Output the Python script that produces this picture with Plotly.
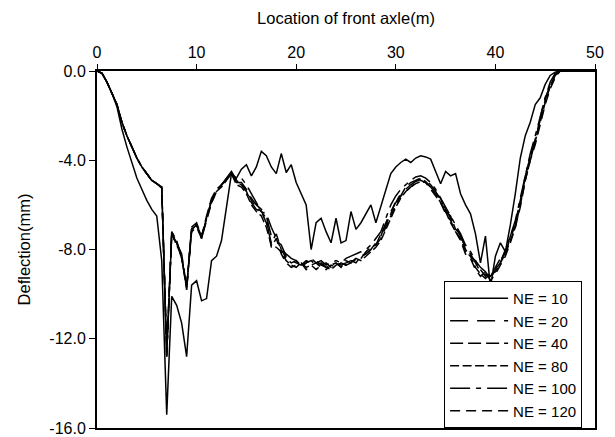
import plotly.graph_objects as go

location = [
    0, 0.5, 1, 1.5, 2, 2.5, 3, 3.5, 4, 4.5,
    5, 5.5, 6, 6.5, 7, 7.5, 8, 8.5, 9, 9.5,
    10, 10.5, 11, 11.5, 12, 12.5, 13, 13.5, 14, 14.5,
    15, 15.5, 16, 16.5, 17, 17.5, 18, 18.5, 19, 19.5,
    20, 20.5, 21, 21.5, 22, 22.5, 23, 23.5, 24, 24.5,
    25, 25.5, 26, 26.5, 27, 27.5, 28, 28.5, 29, 29.5,
    30, 30.5, 31, 31.5, 32, 32.5, 33, 33.5, 34, 34.5,
    35, 35.5, 36, 36.5, 37, 37.5, 38, 38.5, 39, 39.5,
    40, 40.5, 41, 41.5, 42, 42.5, 43, 43.5, 44, 44.5,
    45, 45.5, 46, 46.5, 47, 47.5, 48, 48.5, 49, 49.5,
    50,
]

ne10 = [
    0, -0.1, -0.5, -1.0, -1.6, -2.6, -3.4, -4.1, -4.8, -5.3,
    -5.8, -6.2, -6.5, -8.5, -15.4, -10.1, -10.5, -11.3, -12.8, -9.6,
    -9.4, -10.3, -10.2, -8.5, -8.3, -7.6, -6.0, -4.6, -4.8, -4.4,
    -4.2, -4.7, -4.3, -3.6, -3.8, -4.3, -4.6, -3.7, -4.55, -4.2,
    -5.0, -5.5, -6.0, -8.0, -6.8, -6.6, -7.2, -7.7, -6.6, -7.7,
    -7.6, -6.3, -7.1, -6.8, -6.4, -6.0, -6.8, -6.1, -5.3, -4.6,
    -4.3, -4.1, -3.95, -4.1, -3.9, -3.8, -3.85, -3.95, -4.5, -5.05,
    -4.5, -4.7, -4.6, -5.5, -6.0, -6.4, -7.3, -8.6, -7.4, -9.7,
    -8.3, -7.7, -8.1, -6.9, -5.5, -3.9, -2.9, -2.3, -1.5, -1.2,
    -0.6, -0.2, -0.05, 0, 0, 0, 0, 0, 0, 0,
    0,
]

ne20 = [
    0, -0.1, -0.5, -1.0, -1.5, -2.3, -2.9, -3.4, -3.9, -4.3,
    -4.6, -4.9, -5.05, -5.2, -12.8, -7.3, -7.7, -8.3, -9.8, -7.1,
    -6.9, -7.5, -6.6, -5.8, -5.4, -5.1, -4.8, -4.55, -5.0, -5.0,
    -5.3, -5.7, -6.0, -6.2, -6.5, -7.4, -7.6, -7.8, -8.3, -8.5,
    -8.6, -8.7, -8.5, -8.6, -8.5, -8.7, -8.6, -8.8, -8.6, -8.7,
    -8.6, -8.5, -8.5, -8.3, -8.2, -8.0, -7.7, -7.4, -6.8, -6.3,
    -5.9, -5.5, -5.3, -5.1, -4.95, -4.85, -4.9, -5.1, -5.4, -5.8,
    -6.2, -6.6, -7.0, -7.4, -7.9, -8.2, -8.6, -9.0, -9.1, -9.2,
    -8.9, -8.5, -8.1, -7.5, -6.9, -5.9, -4.7, -3.9, -3.1, -2.2,
    -1.3, -0.6, -0.15, 0, 0, 0, 0, 0, 0, 0,
    0,
]

ne40 = [
    0, -0.1, -0.5, -1.0, -1.5, -2.3, -2.9, -3.4, -3.9, -4.3,
    -4.6, -4.9, -5.05, -5.25, -12.6, -7.2, -7.6, -8.4, -9.7, -7.0,
    -6.8, -7.4, -6.5, -5.7, -5.3, -5.1, -4.8, -4.6, -4.9, -5.1,
    -5.4, -5.9, -6.2, -6.3, -6.8, -7.7, -7.3, -8.0, -8.4, -8.6,
    -8.5, -8.8, -8.6, -8.5, -8.7, -8.6, -8.8, -8.7, -8.6, -8.8,
    -8.5, -8.6, -8.4, -8.4, -8.1, -7.9, -7.8, -7.3, -6.9, -6.4,
    -5.8, -5.6, -5.2, -5.0, -4.9, -4.8, -4.95, -5.2, -5.5, -5.7,
    -6.3, -6.5, -7.1, -7.3, -8.0, -8.3, -8.5, -8.9, -9.2, -9.1,
    -8.8, -8.4, -8.2, -7.4, -6.8, -5.8, -4.8, -3.8, -3.2, -2.1,
    -1.2, -0.7, -0.2, 0, 0, 0, 0, 0, 0, 0,
    0,
]

ne80 = [
    0, -0.1, -0.5, -1.0, -1.5, -2.3, -2.9, -3.4, -3.9, -4.3,
    -4.6, -4.9, -5.05, -5.2, -12.7, -7.3, -7.8, -8.3, -9.8, -7.1,
    -6.9, -7.5, -6.6, -5.9, -5.4, -5.2, -4.9, -4.6, -5.1, -5.2,
    -5.5, -6.0, -6.3, -6.5, -7.0, -7.8, -7.9, -8.1, -8.5, -8.7,
    -8.8, -8.6, -8.8, -8.7, -8.9, -8.7, -8.8, -8.9, -8.7, -8.6,
    -8.7, -8.6, -8.4, -8.5, -8.3, -8.1, -7.9, -7.6, -7.1, -6.6,
    -6.1, -5.7, -5.4, -5.2, -5.05, -4.95, -5.0, -5.2, -5.5, -5.9,
    -6.3, -6.8, -7.2, -7.5, -8.1, -8.3, -8.8, -9.1, -9.3, -9.1,
    -9.0, -8.6, -8.2, -7.6, -7.0, -6.0, -4.9, -4.0, -3.2, -2.3,
    -1.4, -0.7, -0.2, 0, 0, 0, 0, 0, 0, 0,
    0,
]

ne100 = [
    0, -0.1, -0.5, -1.0, -1.5, -2.3, -2.9, -3.4, -3.9, -4.3,
    -4.6, -4.9, -5.05, -5.2, -12.8, -7.2, -7.7, -8.2, -9.7, -7.1,
    -6.9, -7.4, -6.6, -5.8, -5.4, -5.1, -4.8, -4.5, -4.9, -4.8,
    -5.1, -5.5, -5.9, -6.3, -6.4, -7.0, -7.5, -8.0, -8.2, -8.4,
    -8.5, -8.7, -8.6, -8.4, -8.6, -8.5, -8.7, -8.6, -8.5, -8.6,
    -8.4, -8.3, -8.2, -8.1, -8.0, -7.8, -7.5, -7.2, -6.6, -6.0,
    -5.6, -5.3, -5.1, -4.9, -4.75, -4.7, -4.8, -5.0, -5.3, -5.7,
    -6.1, -6.5, -6.9, -7.3, -7.8, -8.1, -8.5, -8.8, -9.0, -9.3,
    -8.9, -8.6, -8.0, -7.4, -6.7, -5.7, -4.6, -3.7, -2.9, -2.0,
    -1.2, -0.5, -0.1, 0, 0, 0, 0, 0, 0, 0,
    0,
]

ne120 = [
    0, -0.1, -0.5, -1.0, -1.5, -2.3, -2.9, -3.4, -3.9, -4.3,
    -4.6, -4.9, -5.05, -5.2, -12.5, -7.4, -7.7, -8.4, -9.6, -7.2,
    -7.0, -7.5, -6.7, -5.9, -5.4, -5.1, -4.9, -4.6, -5.0, -5.1,
    -5.3, -5.8, -6.1, -6.3, -6.6, -7.9, -7.5, -8.2, -8.6, -8.8,
    -8.7, -8.6, -8.9, -8.7, -8.6, -8.8, -8.9, -8.7, -8.8, -8.6,
    -8.7, -8.5, -8.6, -8.3, -8.2, -8.0, -7.8, -7.5, -7.0, -6.5,
    -6.0, -5.6, -5.4, -5.2, -5.0, -4.9, -5.0, -5.3, -5.6, -5.9,
    -6.4, -6.7, -7.2, -7.6, -8.2, -8.4, -8.9, -9.2, -9.0, -9.4,
    -9.1, -8.7, -8.3, -7.7, -7.0, -6.1, -4.9, -4.0, -3.3, -2.4,
    -1.5, -0.8, -0.3, 0, 0, 0, 0, 0, 0, 0,
    0,
]

series_names = ["NE = 10", "NE = 20", "NE = 40", "NE = 80", "NE = 100", "NE = 120"]
series_values = [ne10, ne20, ne40, ne80, ne100, ne120]
dash_styles = ["solid", "18px,9px", "13px,5px", "9px,3.5px", "20px,6px,5px,6px", "10px,6px"]

x_tick_vals = [0, 10, 20, 30, 40, 50]
y_tick_vals = [0, -4, -8, -12, -16]
y_tick_text = ["0.0", "-4.0", "-8.0", "-12.0", "-16.0"]

FONT = "Liberation Sans"

fig = go.Figure()
for name, vals, dash in zip(series_names, series_values, dash_styles):
    fig.add_trace(go.Scatter(
        x=location, y=vals, name=name, mode="lines",
        line=dict(color="black", width=1.5, dash=dash),
    ))

fig.update_layout(
    width=615, height=437,
    margin=dict(l=97, r=20, t=71, b=9),
    paper_bgcolor="white", plot_bgcolor="white",
    font=dict(family=FONT, size=16, color="black"),
    showlegend=True,
    legend=dict(
        x=0.697, y=0, xanchor="left", yanchor="bottom",
        bgcolor="white", bordercolor="black", borderwidth=1,
        font=dict(size=15, family=FONT), itemwidth=58,
        entrywidth=93, entrywidthmode="pixels",
        tracegroupgap=0,
    ),
    xaxis=dict(
        side="top", range=[0, 50], tickvals=x_tick_vals,
        showgrid=False, zeroline=False, automargin=False,
        showline=True, linecolor="black", linewidth=2, mirror=True,
        ticks="outside", ticklen=5, tickwidth=1, tickcolor="black",
        ticklabeloverflow="allow",
        title=dict(text="Location of front axle(m)", standoff=15,
                   font=dict(family=FONT, size=16.5)),
    ),
    yaxis=dict(
        range=[-16, 0], tickvals=y_tick_vals, ticktext=y_tick_text,
        showgrid=False, zeroline=False, automargin=False,
        showline=True, linecolor="black", linewidth=2, mirror=True,
        ticks="outside", ticklen=6, tickwidth=1, tickcolor="black",
        ticklabeloverflow="allow",
        title=dict(text="Deflection(mm)", standoff=15,
                   font=dict(family=FONT, size=16.5)),
    ),
)

fig.write_html(
    "out.html",
    config={"displayModeBar": False},
    post_script="document.body.style.margin='0';",
)
